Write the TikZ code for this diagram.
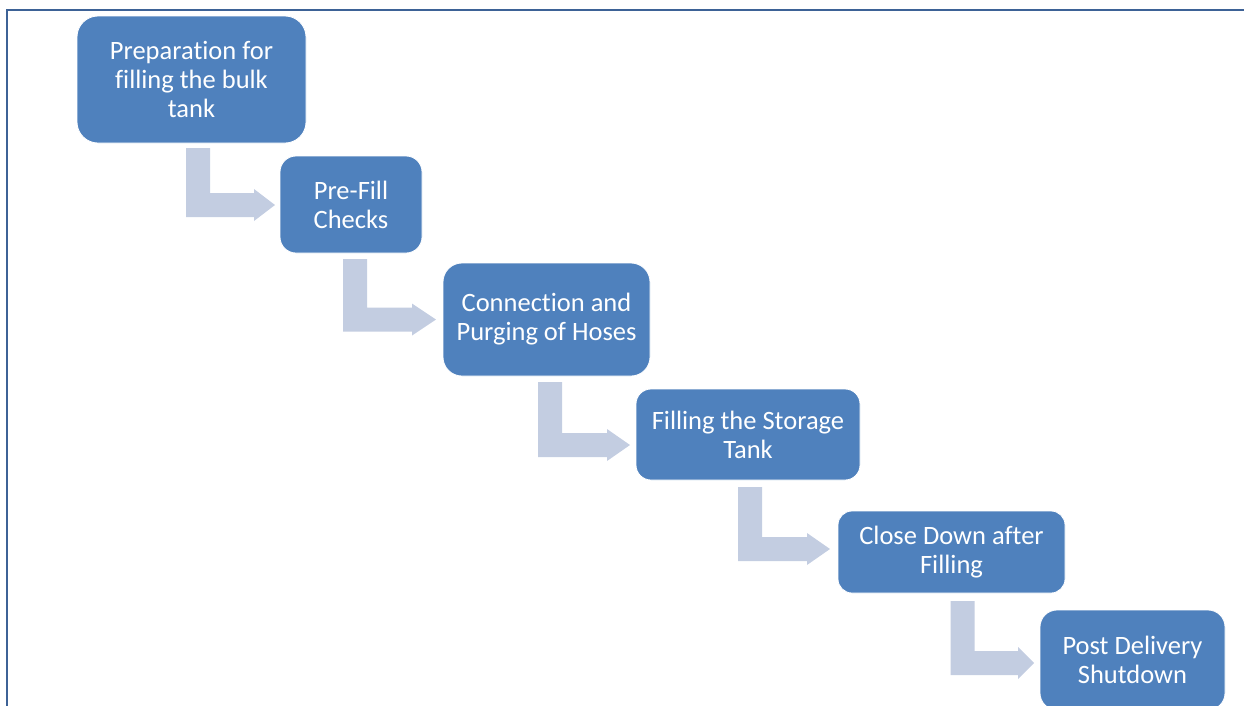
\documentclass[tikz,border=0pt]{standalone}
\usepackage{fontspec}
\setmainfont{Carlito}[Ligatures=NoCommon]
\usetikzlibrary{calc}
\definecolor{boxblue}{HTML}{4F81BD}
\definecolor{arrowgray}{HTML}{C3CDE1}
\definecolor{framecol}{HTML}{3D6296}
\tikzset{
  stepbox/.style={fill=boxblue, draw=white, line width=0.8pt, text=white,
    align=center, inner sep=0pt,
    font=\fontsize{26.5}{29}\selectfont},
  bendfill/.style={fill=arrowgray},
  framestyle/.style={draw=framecol, line width=1.8pt}
}
\newcommand\bentarrow[3]{%
  \fill[bendfill] let \p1=(#1), \p2=(#2) in
    (\x1-12pt,\y1) -- (\x1+12pt,\y1) -- (\x1+12pt,\y2+12pt)
    -- (\x2-#3pt,\y2+12pt) -- (\x2-#3pt,\y2+16pt) -- (\x2,\y2)
    -- (\x2-#3pt,\y2-16pt) -- (\x2-#3pt,\y2-12pt)
    -- (\x1-12pt,\y2-12pt) -- cycle;}
\begin{document}
\begin{tikzpicture}[x=1pt,y=-1pt]
\useasboundingbox (0,0) rectangle (1244,705);
\clip (0,0) rectangle (1244,705);
% frame
\coordinate (fr1) at (1246,10);
\coordinate (fr2) at (7,10);
\coordinate (fr3) at (7,710);
\draw[framestyle] (fr1) -- (fr2) -- (fr3);
% arrows
\coordinate (a1s) at (198,148);   \coordinate (a1t) at (275,205);
\coordinate (a2s) at (355,259);   \coordinate (a2t) at (436,319.5);
\coordinate (a3s) at (550,382);   \coordinate (a3t) at (630,445);
\coordinate (a4s) at (750,487);   \coordinate (a4t) at (830,549);
\coordinate (a5s) at (962.5,601); \coordinate (a5t) at (1034,663);
\bentarrow{a1s}{a1t}{21}
\bentarrow{a2s}{a2t}{24}
\bentarrow{a3s}{a3t}{23}
\bentarrow{a4s}{a4t}{23}
\bentarrow{a5s}{a5t}{16}
% boxes
\node[stepbox, minimum width=229pt, minimum height=127pt, rounded corners=21pt] (b1) at (191.5,79.5) {Preparation for\\filling the bulk\\tank};
\node[stepbox, minimum width=142pt, minimum height=97pt, rounded corners=16pt] (b2) at (351,204.5) {Pre-Fill\\Checks};
\node[stepbox, minimum width=207pt, minimum height=113pt, rounded corners=19pt] (b3) at (546.5,319.5) {Connection and\\Purging of Hoses};
\node[stepbox, minimum width=224pt, minimum height=91pt, rounded corners=15pt] (b4) at (748,434.5) {Filling the Storage\\Tank};
\node[stepbox, minimum width=227pt, minimum height=82pt, rounded corners=14pt] (b5) at (951.5,552) {Close Down after\\Filling};
\node[stepbox, minimum width=185pt, minimum height=100pt, rounded corners=17pt] (b6) at (1132.5,660) {Post Delivery\\Shutdown};
\end{tikzpicture}
\end{document}
